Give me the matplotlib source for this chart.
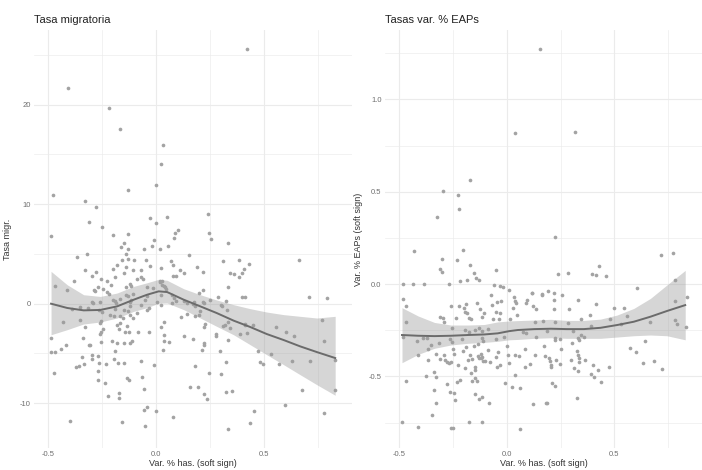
import numpy as np
import matplotlib
matplotlib.use("Agg")
import matplotlib.pyplot as plt
from matplotlib.ticker import MultipleLocator, FixedLocator

plt.rcParams["font.family"] = ["Liberation Sans", "DejaVu Sans"]

# --- Tasa migratoria: points (x = var. % has., y = tasa migr.)
mig_pts = [
    (0.42, 25.6), (-0.41, 21.7), (-0.22, 19.7), (-0.17, 17.6), (0.03, 15.9), (0.02, 14.0),
    (-0.48, 10.9), (0.0, 11.9), (-0.13, 11.4), (-0.33, 10.3), (-0.28, 9.7), (-0.03, 8.6),
    (0.0, 8.1), (0.05, 8.7), (0.24, 9.05), (-0.31, 8.2), (-0.25, 7.7),
    (-0.49, 6.8), (-0.20, 6.9), (-0.13, 7.0), (0.10, 7.4), (0.085, 7.1), (0.08, 6.6),
    (-0.01, 6.4), (-0.15, 6.1), (-0.165, 5.7), (-0.13, 5.5), (-0.02, 5.8), (0.015, 5.5),
    (0.055, 5.8), (-0.055, 5.5), (-0.14, 5.0), (-0.37, 4.7), (-0.32, 5.0), (0.15, 4.9),
    (-0.16, 4.4), (-0.13, 4.5), (-0.105, 4.4), (-0.05, 4.4), (-0.18, 3.9), (-0.03, 3.8),
    (0.07, 4.3), (0.075, 3.9), (-0.33, 3.4), (-0.28, 3.2), (-0.2, 3.5), (-0.14, 3.65),
    (-0.11, 3.35), (-0.07, 3.4), (0.02, 3.6), (0.11, 3.4), (0.13, 3.1), (-0.30, 2.8),
    (-0.19, 2.7), (-0.15, 3.1), (-0.09, 2.5), (-0.07, 2.7), (-0.06, 2.5), (0.077, 2.8),
    (0.09, 2.8), (-0.38, 2.3), (-0.255, 2.45), (-0.23, 2.25), (-0.21, 1.85), (-0.27, 1.65),
    (-0.245, 1.5), (-0.29, 1.35), (-0.23, 1.15), (-0.22, 1.0), (-0.47, 1.75), (-0.415, 1.4),
    (-0.14, 1.7), (-0.12, 2.0), (-0.117, 1.75), (-0.045, 1.7), (-0.11, 1.0), (0.017, 2.25),
    (0.026, 1.9), (0.038, 1.7), (0.02, 0.9),
    (0.245, 7.1), (0.255, 6.5), (0.33, 6.1), (0.31, 4.3), (0.385, 4.4), (0.43, 3.95),
    (0.405, 3.5), (0.395, 3.1), (0.385, 2.7), (0.34, 3.05), (0.36, 2.95), (0.187, 3.65),
    (0.217, 3.15), (0.66, 4.35), (0.33, 1.65), (0.216, 1.4), (0.2, 1.07), (0.285, 0.67),
    (0.395, 0.63), (0.41, 0.7), (0.71, 0.7), (0.79, 0.6),
    (-0.296, 0.17), (-0.19, 0.3), (-0.117, 0.4), (-0.12, 0.17), (0.003, 0.17), (0.02, -0.1),
    (0.073, 0.07), (-0.39, -0.5), (-0.316, -0.43), (-0.267, -0.6), (-0.25, -0.85),
    (-0.19, -0.53), (-0.148, -0.6), (-0.133, -0.7), (-0.043, -0.6), (-0.036, -0.43),
    (-0.213, -1.1), (-0.198, -1.2), (-0.167, -1.27), (-0.154, -1.44), (-0.12, -1.17),
    (-0.11, -1.44), (0.14, -1.0), (0.114, -1.34), (-0.434, -1.84), (-0.355, -1.68),
    (-0.255, -1.71), (-0.262, -1.9), (-0.33, -2.3), (-0.167, -1.98), (-0.18, -2.18),
    (-0.136, -2.28), (0.035, -1.8), (0.02, -2.3), (-0.247, -2.55), (-0.256, -2.85),
    (-0.26, -3.0), (-0.173, -2.55), (-0.147, -2.88), (-0.127, -2.88), (-0.083, -2.8),
    (-0.032, -2.88), (0.037, -3.15), (0.127, -3.2), (0.17, -3.55), (-0.486, -3.45),
    (-0.34, -3.48), (-0.205, -3.72), (-0.18, -3.99), (-0.151, -3.99), (-0.113, -3.78),
    (-0.12, -3.95), (-0.258, -3.89), (-0.313, -4.12), (-0.306, -4.19), (0.034, -3.79),
    (0.059, -3.89), (-0.418, -4.19), (-0.44, -4.52), (0.031, -4.62), (-0.193, -4.72),
    (-0.49, -4.86), (-0.47, -4.82), (-0.344, -5.4), (-0.296, -5.2), (-0.3, -5.6),
    (-0.27, -5.3), (-0.196, -5.56), (-0.07, -5.73), (-0.337, -6.03), (-0.267, -5.93),
    (-0.231, -6.03), (-0.178, -6.0), (-0.148, -5.93), (-0.374, -6.36), (-0.36, -6.26),
    (-0.01, -6.2), (-0.475, -6.96), (-0.269, -6.8), (-0.137, -7.44), (-0.126, -7.67),
    (-0.066, -7.4), (-0.27, -7.7), (-0.236, -8.0), (-0.056, -8.54), (0.157, -8.34),
    (-0.174, -8.94), (-0.225, -9.25), (-0.174, -9.48), (-0.042, -10.42), (-0.056, -10.65),
    (0.0, -10.8), (0.077, -11.36), (-0.398, -11.83), (-0.157, -11.9), (-0.051, -12.3),
    (0.323, 0.23), (0.304, -0.2), (0.173, 0.13), (0.18, -0.2), (0.216, 0.13), (0.327, -0.67),
    (0.179, -1.27), (0.2, -1.1), (0.225, -2.0), (0.22, -2.38), (0.33, -1.87), (0.32, -2.18),
    (0.31, -2.28), (0.343, -2.48), (0.278, -3.0), (0.278, -3.28), (0.386, -3.05),
    (0.41, -2.1), (0.333, -3.68), (0.219, -3.99), (0.219, -4.19), (0.213, -4.69),
    (0.296, -4.79), (0.554, -2.34), (0.6, -2.88), (0.64, -3.2), (0.776, -3.79),
    (0.47, -4.72), (0.53, -5.06), (0.48, -5.83), (0.496, -6.03), (0.57, -6.07),
    (0.63, -5.73), (0.714, -5.8), (0.83, -5.66), (0.177, -6.3), (0.245, -6.93),
    (0.298, -7.07), (0.324, -5.86), (0.193, -8.34), (0.219, -9.11), (0.235, -9.58),
    (0.324, -8.88), (0.353, -8.78), (0.677, -8.68), (0.83, -8.68), (0.597, -10.15),
    (0.455, -10.78), (0.776, -11.0), (0.434, -11.96), (0.33, -12.56),
    (0.767, -1.68), (-0.352, -0.37), (-0.293, 0.07), (-0.26, 0.17), (-0.286, 1.24),
    (-0.2, 0.4), (-0.188, 0.07), (-0.17, 0.47), (-0.139, 0.9), (-0.13, 0.73),
    (-0.124, -0.27), (-0.09, -0.94), (-0.07, -0.17), (-0.054, 0.4), (-0.043, 0.73),
    (-0.015, 1.58), (0.015, 2.18), (0.028, 2.24), (0.034, 1.74), (0.045, 1.5),
    (0.074, 0.9), (0.08, 0.57), (0.09, 0.23), (0.126, 0.23), (0.14, 0.07), (0.17, 0.0),
    (0.204, -0.77), (0.222, 0.07), (0.25, 0.4), (0.3, -0.1), (0.42, -2.95),
    (0.413, -2.04), (0.45, -2.18),
]

# --- Tasas var. % EAPs: points
eap_pts = [
    (0.156, 1.275), (0.036, 0.816), (0.315, 0.825), (-0.171, 0.562), (-0.295, 0.504),
    (-0.228, 0.482), (-0.224, 0.406), (-0.325, 0.365),
    (-0.43, 0.177), (-0.205, 0.186), (-0.304, 0.137), (-0.233, 0.132), (-0.05, 0.076),
    (-0.17, 0.103), (-0.312, 0.081), (-0.304, 0.067), (-0.154, 0.061), (-0.142, 0.031),
    (-0.131, 0.022), (-0.184, 0.023), (-0.218, 0.015), (-0.483, 0.0), (-0.435, 0.0),
    (-0.387, 0.0), (-0.268, 0.0), (-0.062, -0.005), (-0.03, -0.01), (-0.02, -0.015),
    (0.008, -0.032), (-0.073, -0.06), (0.031, -0.069), (0.117, -0.049), (0.163, -0.058),
    (-0.481, -0.08), (-0.468, -0.12), (-0.138, -0.1), (-0.046, -0.098), (-0.026, -0.09),
    (0.036, -0.09), (0.042, -0.105), (0.094, -0.087), (0.088, -0.1), (-0.261, -0.119),
    (-0.225, -0.119), (-0.191, -0.11), (-0.199, -0.132), (-0.068, -0.114), (0.026, -0.132),
    (0.136, -0.137), (-0.125, -0.137), (-0.196, -0.15), (-0.185, -0.155), (-0.05, -0.15),
    (-0.032, -0.159), (-0.105, -0.155), (-0.116, -0.177), (-0.31, -0.177), (-0.298, -0.186),
    (-0.237, -0.186), (-0.175, -0.182), (-0.165, -0.19), (-0.063, -0.19), (-0.038, -0.19),
    (0.015, -0.191), (-0.468, -0.204), (-0.292, -0.204),
    (0.222, 0.255), (0.718, 0.157), (0.772, 0.17), (0.43, 0.096), (0.238, 0.056),
    (0.284, 0.061), (0.397, 0.052), (0.415, 0.049), (0.461, 0.043), (0.78, 0.02),
    (0.603, -0.02), (0.165, -0.056), (0.191, -0.036), (0.218, -0.05), (0.258, -0.058),
    (0.218, -0.088), (0.332, -0.087), (0.415, -0.108), (0.221, -0.134), (0.29, -0.135),
    (0.5, -0.13), (0.782, -0.092), (0.835, -0.072), (0.387, -0.168), (0.557, -0.173),
    (0.343, -0.19), (0.481, -0.19), (0.168, -0.198), (0.225, -0.208), (0.284, -0.21),
    (0.665, -0.204), (0.782, -0.195), (0.532, -0.215), (0.389, -0.228), (0.79, -0.217),
    (0.832, -0.233),
    (-0.255, -0.24), (-0.196, -0.249), (-0.175, -0.262), (-0.15, -0.249), (-0.131, -0.237),
    (-0.116, -0.253), (-0.088, -0.244), (-0.417, -0.307), (-0.39, -0.294), (-0.37, -0.291),
    (-0.265, -0.298), (-0.255, -0.312), (-0.208, -0.3), (-0.116, -0.294), (-0.11, -0.309),
    (-0.051, -0.298), (-0.015, -0.285), (0.074, -0.258), (0.088, -0.267), (0.134, -0.285),
    (-0.366, -0.354), (-0.355, -0.33), (-0.316, -0.321), (-0.251, -0.354), (-0.19, -0.34),
    (-0.154, -0.334), (-0.134, -0.327), (-0.088, -0.358), (-0.042, -0.37), (0.0, -0.334),
    (0.082, -0.352), (-0.412, -0.385), (-0.329, -0.381), (-0.293, -0.385), (-0.247, -0.381),
    (-0.204, -0.363), (-0.17, -0.385), (-0.134, -0.388), (-0.122, -0.381), (-0.116, -0.394),
    (-0.05, -0.397), (0.005, -0.385), (0.038, -0.385), (0.054, -0.39), (0.131, -0.385),
    (-0.367, -0.412), (-0.309, -0.408), (-0.288, -0.412), (-0.278, -0.42), (-0.27, -0.43),
    (-0.262, -0.42), (-0.227, -0.439), (-0.196, -0.453), (-0.18, -0.412), (-0.162, -0.408),
    (-0.15, -0.448), (-0.131, -0.402), (-0.119, -0.399), (-0.111, -0.417), (-0.1, -0.417),
    (-0.077, -0.42), (-0.046, -0.448), (-0.031, -0.439), (0.008, -0.43), (0.085, -0.448),
    (0.105, -0.433), (-0.168, -0.48), (-0.147, -0.466), (-0.375, -0.497), (-0.339, -0.475),
    (-0.332, -0.502), (0.038, -0.493), (-0.471, -0.525), (-0.231, -0.529), (-0.219, -0.52),
    (-0.162, -0.525), (-0.139, -0.525), (-0.147, -0.507), (-0.278, -0.543), (-0.008, -0.538),
    (0.023, -0.556), (0.062, -0.565), (-0.339, -0.574), (-0.265, -0.583), (-0.247, -0.592),
    (-0.242, -0.628), (-0.15, -0.598), (-0.131, -0.623), (-0.116, -0.614), (-0.085, -0.643),
    (-0.332, -0.643), (0.119, -0.648), (0.18, -0.643), (-0.35, -0.71), (-0.486, -0.746),
    (-0.412, -0.773), (-0.175, -0.749), (-0.116, -0.746), (-0.262, -0.782), (-0.25, -0.782),
    (0.062, -0.785),
    (0.184, -0.253), (0.307, -0.253), (0.222, -0.291), (0.222, -0.303), (0.249, -0.298),
    (0.33, -0.291), (0.335, -0.303), (0.346, -0.276), (0.356, -0.285), (0.302, -0.321),
    (0.644, -0.309), (0.171, -0.334), (0.25, -0.352), (0.574, -0.345), (0.6, -0.37),
    (0.176, -0.388), (0.196, -0.399), (0.327, -0.363), (0.33, -0.385), (0.335, -0.402),
    (0.333, -0.424), (0.3, -0.413), (0.361, -0.412), (0.23, -0.412), (0.245, -0.435),
    (0.199, -0.417), (0.207, -0.439), (0.207, -0.451), (0.4, -0.439), (0.424, -0.466),
    (0.474, -0.448), (0.312, -0.457), (0.332, -0.471), (0.389, -0.489), (0.407, -0.502),
    (0.633, -0.426), (0.682, -0.415), (0.721, -0.462), (0.438, -0.533), (0.208, -0.538),
    (0.224, -0.551), (0.184, -0.643), (0.327, -0.619),
    (-0.483, -0.285), (0.543, -0.128), (0.045, -0.168), (0.116, -0.05), (0.123, -0.119),
    (0.131, -0.208),
]

# --- loess fits
fit_x = [-0.488, -0.413, -0.337, -0.26, -0.182, -0.105, -0.043, 0.011, 0.05, 0.127,
         0.204, 0.28, 0.358, 0.435, 0.512, 0.59, 0.667, 0.744, 0.829]
mig_fit = [0.0, -0.43, -0.67, -0.63, -0.27, 0.4, 0.9, 1.24, 1.17, 0.4,
           -0.27, -0.94, -1.7, -2.34, -3.05, -3.65, -4.29, -4.86, -5.46]
mig_hi = [3.25, 1.9, 0.9, 0.73, 1.07, 1.74, 2.1, 2.45, 2.35, 1.5,
          0.9, 0.37, -0.1, -0.5, -0.84, -1.1, -1.27, -1.44, -1.27]
mig_lo = [-3.12, -2.61, -2.04, -1.84, -1.44, -0.77, -0.4, 0.05, 0.07, -0.6,
          -1.44, -2.28, -3.12, -4.12, -5.13, -6.13, -7.14, -8.14, -9.2]
eap_fit = [-0.276, -0.28, -0.282, -0.28, -0.276, -0.273, -0.267, -0.255, -0.249, -0.244,
           -0.242, -0.244, -0.244, -0.237, -0.222, -0.204, -0.177, -0.146, -0.114]
eap_hi = [-0.128, -0.173, -0.208, -0.222, -0.222, -0.219, -0.205, -0.2, -0.198, -0.195,
          -0.191, -0.197, -0.197, -0.19, -0.168, -0.132, -0.078, -0.005, 0.074]
eap_lo = [-0.426, -0.381, -0.348, -0.33, -0.321, -0.316, -0.31, -0.302, -0.3, -0.294,
          -0.291, -0.294, -0.294, -0.294, -0.287, -0.28, -0.276, -0.28, -0.302]

x_ticks = [-0.5, 0.0, 0.5]
mig_ticks = [-10, 0, 10, 20]
eap_ticks = [-0.5, 0.0, 0.5, 1.0]

W, H = 702, 470
fig = plt.figure(figsize=(W / 100, H / 100), dpi=100)
ax1 = fig.add_axes([34 / W, 1 - 448 / H, 318 / W, 418 / H])
ax2 = fig.add_axes([385 / W, 1 - 448 / H, 317 / W, 418 / H])

grid_col = "#ebebeb"


def style(ax, yticks, ylim, ymin_step, yfmt):
    ax.set_xlim(-0.567, 0.907)
    ax.set_ylim(*ylim)
    ax.xaxis.set_major_locator(FixedLocator(x_ticks))
    ax.xaxis.set_minor_locator(MultipleLocator(0.25))
    ax.yaxis.set_major_locator(FixedLocator(yticks))
    ax.yaxis.set_minor_locator(MultipleLocator(ymin_step))
    ax.set_xticklabels([f"{t:.1f}" for t in x_ticks])
    ax.set_yticklabels([yfmt(t) for t in yticks])
    ax.grid(which="major", color=grid_col, lw=0.8)
    ax.grid(which="minor", color=grid_col, lw=0.45)
    ax.set_axisbelow(True)
    for s in ax.spines.values():
        s.set_visible(False)
    ax.tick_params(which="both", length=0, labelsize=5.5, labelcolor="#6e6e6e", pad=2.5)
    ax.tick_params(axis="x", pad=2)
    ax.set_xlabel("Var. % has. (soft sign)", fontsize=6.5, color="#333333", labelpad=1)


def panel(ax, pts, fit, lo, hi):
    px, py = zip(*pts)
    ax.scatter(px, py, s=7, color="#a3a3a3", linewidths=0, zorder=2)
    ax.fill_between(fit_x, lo, hi, color="#999999", alpha=0.4, lw=0, zorder=3)
    ax.plot(fit_x, fit, color="#6b6b6b", lw=1.4, zorder=4)


panel(ax1, mig_pts, mig_fit, mig_lo, mig_hi)
style(ax1, mig_ticks, (-14.5, 27.5), 5, lambda t: f"{t:d}")
ax1.set_ylabel("Tasa migr.", fontsize=6.5, color="#333333")
ax1.yaxis.set_label_coords(-0.069, 0.5)
ax1.set_title("Tasa migratoria", loc="left", fontsize=8, color="#222222", pad=5)

panel(ax2, eap_pts, eap_fit, eap_lo, eap_hi)
style(ax2, eap_ticks, (-0.888, 1.376), 0.25, lambda t: f"{t:.1f}")
ax2.set_ylabel("Var. % EAPs (soft sign)", fontsize=6.5, color="#333333")
ax2.yaxis.set_label_coords(-0.069, 0.5)
ax2.set_title("Tasas var. % EAPs", loc="left", fontsize=8, color="#222222", pad=5)

fig.savefig("out.png", dpi=100)
